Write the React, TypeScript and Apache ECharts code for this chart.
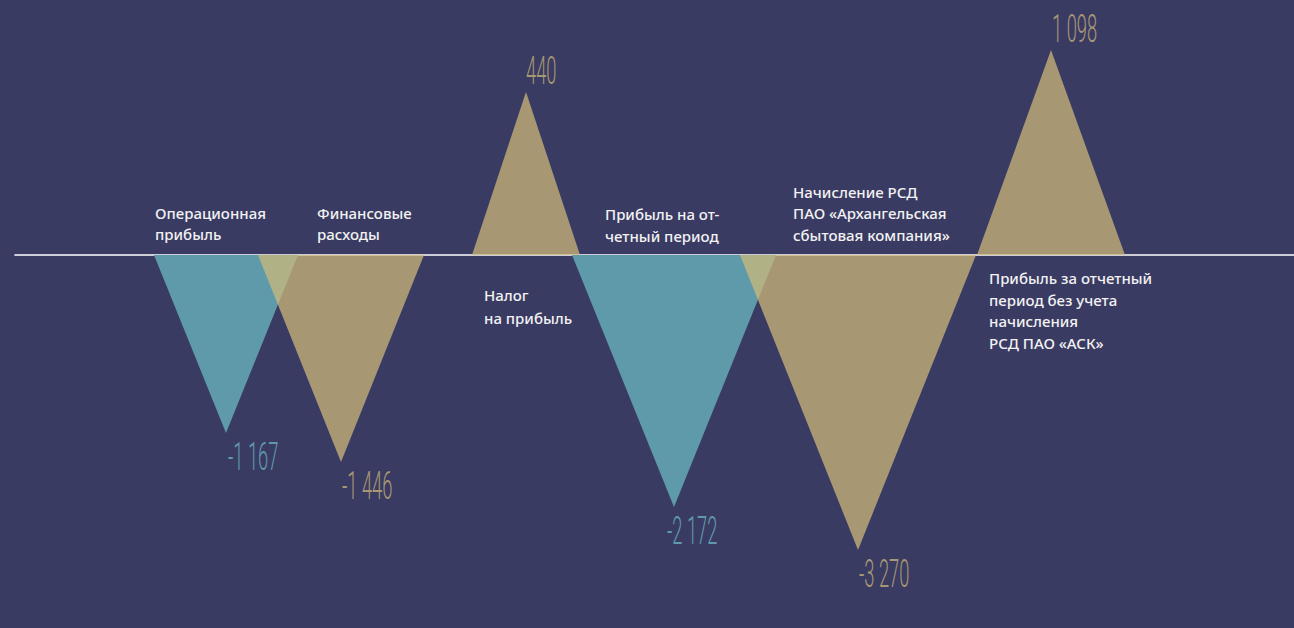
import React, { useEffect, useRef } from "react";
import * as echarts from "echarts";

// Data
const categories = [
  "Операционная\nприбыль",
  "Финансовые\nрасходы",
  "Налог\nна прибыль",
  "Прибыль на от-\nчетный период",
  "Начисление РСД\nПАО «Архангельская\nсбытовая компания»",
  "Прибыль за отчетный\nпериод без учета\nначисления\nРСД ПАО «АСК»",
];
const values = [-1167, -1446, 440, -2172, -3270, 1098];
const seriesKind = ["blue", "tan", "tan", "blue", "tan", "tan"];

// Layout of the (not to scale) infographic, in chart units
const centers = [226, 341, 526, 674, 858, 1051];
const halfWidths = [72, 83, 54, 102, 118, 74];
const shapeHeights = [178, 207, 163, 252, 295, 205];
const valueLabelDx = [2, 1, 0, -7, 1, 1];
const catLabelX = [155, 317, 484, 605, 793, 989];
const catLabelTop = [53, 53, -28, 52, 74, -12];
const catLineHeight = [21.5, 21.5, 23, 22, 21.5, 21.7];

const BG = "#3a3b63";
const BLUE = "#5f9aab";
const TAN_FILL = "rgba(209,185,121,0.73)";
const TAN_TEXT = "#a89773";

function fmt(v: number): string {
  const s = Math.abs(v).toString().replace(/\B(?=(\d{3})+(?!\d))/g, " ");
  return (v < 0 ? "-" : "") + s;
}

export default function App() {
  const ref = useRef<HTMLDivElement>(null);
  useEffect(() => {
    if (!ref.current) return;
    const chart = echarts.init(ref.current, null, { renderer: "svg" });
    const data = values.map((v, i) => [
      centers[i],
      halfWidths[i],
      shapeHeights[i] * Math.sign(v),
      v,
      i,
    ]);
    chart.setOption({
      animation: false,
      backgroundColor: BG,
      grid: { left: 15, right: 0, top: 0, bottom: 0, containLabel: false },
      xAxis: {
        type: "value",
        min: 15,
        max: 1294,
        axisLine: { show: true, onZero: true, lineStyle: { color: "#ffffff", width: 1.6 } },
        axisTick: { show: false },
        axisLabel: { show: false },
        splitLine: { show: false },
      },
      yAxis: {
        type: "value",
        min: -373,
        max: 255,
        show: false,
        splitLine: { show: false },
      },
      series: [
        {
          type: "custom",
          clip: false,
          encode: { x: 0, y: 2 },
          data,
          renderItem: (params: any, api: any) => {
            const cx = api.value(0);
            const hw = api.value(1);
            const h = api.value(2);
            const v = api.value(3);
            const i = api.value(4);
            const pL = api.coord([cx - hw, 0]);
            const pR = api.coord([cx + hw, 0]);
            const pA = api.coord([cx, h]);
            const blue = seriesKind[i] === "blue";
            const lbl = api.coord([catLabelX[i], catLabelTop[i]]);
            return {
              type: "group",
              children: [
                {
                  type: "polygon",
                  shape: { points: [pL, pR, pA] },
                  style: { fill: blue ? BLUE : TAN_FILL },
                },
                {
                  type: "text",
                  x: pA[0] + valueLabelDx[i],
                  y: pA[1] + (v < 0 ? 24 : -21),
                  scaleX: 0.47,
                  style: {
                    text: fmt(v),
                    fill: blue ? BLUE : TAN_TEXT,
                    fontFamily: "Roboto, sans-serif",
                    fontSize: 39,
                    fontWeight: 300,
                    align: "left",
                    verticalAlign: "middle",
                  },
                },
                {
                  type: "text",
                  x: lbl[0],
                  y: lbl[1],
                  style: {
                    text: categories[i],
                    fill: "#f2f2f2",
                    fontFamily: '"Noto Sans", sans-serif',
                    fontSize: 15,
                    fontWeight: 500,
                    lineHeight: catLineHeight[i],
                    align: "left",
                    verticalAlign: "top",
                  },
                },
              ],
            };
          },
        },
      ],
    });
    return () => chart.dispose();
  }, []);
  return (
    <div
      ref={ref}
      style={{ position: "fixed", left: 0, top: 0, width: 1294, height: 628, background: BG }}
    />
  );
}
